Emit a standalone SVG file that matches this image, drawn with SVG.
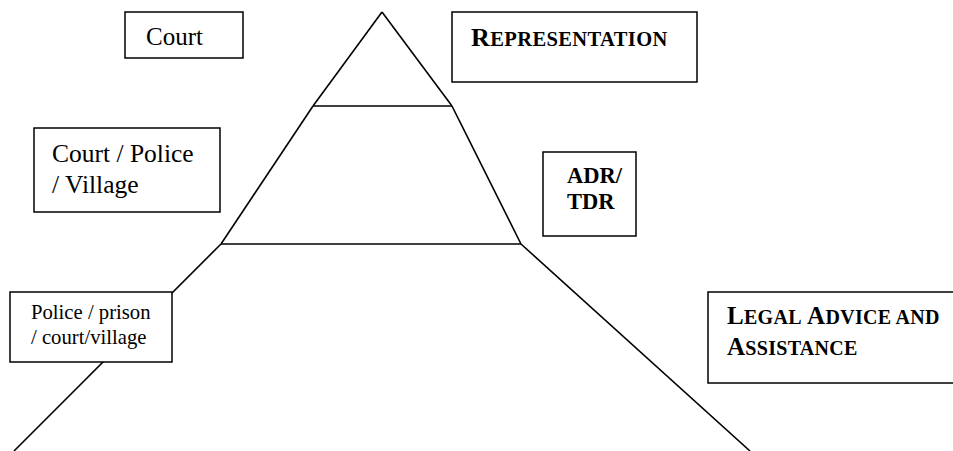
<svg xmlns="http://www.w3.org/2000/svg" width="953" height="451" viewBox="0 0 953 451">
<style>
.box{fill:#fff;stroke:#000;stroke-width:1.5}
.ln{stroke:#000;stroke-width:1.6;fill:none}
text{fill:#000}
</style>
<rect width="953" height="451" fill="#fff"/>
<g id="connectors">
<line class="ln" x1="382" y1="12" x2="313" y2="106"/>
<line class="ln" x1="382" y1="12" x2="452" y2="106"/>
<line class="ln" x1="313" y1="106" x2="452" y2="106"/>
<line class="ln" x1="313" y1="106" x2="221" y2="244"/>
<line class="ln" x1="452" y1="106" x2="521" y2="244"/>
<line class="ln" x1="221" y1="244" x2="521" y2="244"/>
<line class="ln" x1="221" y1="244" x2="14" y2="451"/>
<line class="ln" x1="521" y1="244" x2="750" y2="451"/>
</g>
<g id="court">
<rect class="box" x="125" y="12" width="118" height="46"/>
<text x="146" y="45" font-family="Times New Roman, serif" font-size="25">Court</text>
</g>
<g id="representation">
<rect class="box" x="452" y="12" width="245" height="70"/>
<text x="471" y="46" font-family="Times New Roman, serif" font-size="26" font-weight="bold" letter-spacing="0.4">R<tspan font-size="20.5">EPRESENTATION</tspan></text>
</g>
<g id="court-police-village">
<rect class="box" x="34" y="128" width="186" height="84"/>
<text font-family="Times New Roman, serif" font-size="25.5"><tspan x="52" y="162">Court / Police</tspan><tspan x="52" y="193">/ Village</tspan></text>
</g>
<g id="adr-tdr">
<rect class="box" x="543" y="152" width="93" height="84"/>
<text font-family="Times New Roman, serif" font-size="22.5" font-weight="bold"><tspan x="567" y="183">ADR/</tspan><tspan x="567" y="209">TDR</tspan></text>
</g>
<g id="police-prison">
<rect class="box" x="10" y="292" width="162" height="70"/>
<text font-family="Times New Roman, serif" font-size="20.7"><tspan x="31" y="319">Police / prison</tspan><tspan x="31" y="344">/ court/village</tspan></text>
</g>
<g id="legal-advice">
<rect class="box" x="708" y="292" width="250" height="91"/>
<text font-family="Times New Roman, serif" font-size="25" font-weight="bold" letter-spacing="0.3"><tspan x="727" y="324">L<tspan font-size="20">EGAL</tspan> A<tspan font-size="20">DVICE AND</tspan></tspan><tspan x="727" y="355">A<tspan font-size="20">SSISTANCE</tspan></tspan></text>
</g>
</svg>
